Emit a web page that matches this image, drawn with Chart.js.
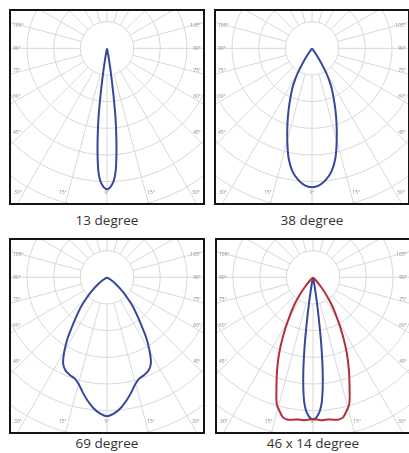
<!DOCTYPE html>
<html>
<head>
<meta charset="utf-8">
<script src="https://cdn.jsdelivr.net/npm/chart.js@4.4.1/dist/chart.umd.min.js"></script>
<style>
  body { margin: 0; background: #fff; width: 409px; height: 453px; position: relative; overflow: hidden; font-family: 'Open Sans', sans-serif; }
  .panel { position: absolute; width: 192px; height: 192px; border: 2px solid #151515; }
  .panel canvas { display: block; }
  .cap { position: absolute; width: 200px; text-align: center; font-size: 13.5px; line-height: 14px; color: #333; }
</style>
</head>
<body>
<div class="panel" style="left:9px;top:9px"><canvas id="c1" width="192" height="192"></canvas></div>
<div class="panel" style="left:214px;top:9px"><canvas id="c2" width="192" height="192"></canvas></div>
<div class="panel" style="left:9px;top:238px"><canvas id="c3" width="192" height="192"></canvas></div>
<div class="panel" style="left:215px;top:238px"><canvas id="c4" width="192" height="192"></canvas></div>
<div class="cap" style="left:7px;top:213px">13 degree</div>
<div class="cap" style="left:212px;top:213px">38 degree</div>
<div class="cap" style="left:7px;top:436px">69 degree</div>
<div class="cap" style="left:213px;top:436px">46 x 14 degree</div>

<script>
// angle from nadir (deg) and relative intensity, one half of each symmetric curve
const angles13 = [0, 1, 2, 3, 4, 5, 6, 7, 8, 9, 10, 11, 12];
const beam13 = [105.6, 104.8, 102.5, 99, 92.5, 81, 67, 52, 33, 18, 8, 2.5, 0];

const angles38 = [0, 3, 6, 9, 12, 15, 18, 21, 24, 27, 30, 33, 35, 37];
const beam38 = [104.1, 102.9, 99.2, 93.5, 84.3, 71.6, 59.6, 48.8, 39.2, 31.2, 21.3, 10, 4, 0];

const angles69 = [0, 3, 6, 9, 12, 15, 18, 21, 24, 27, 30, 33, 36, 39, 42, 45, 48, 52, 56, 60];
const beam69 = [104.1, 102.2, 98.5, 93.5, 88, 82.6, 79.5, 78.3, 76.5, 72.5, 64, 54, 43, 35, 28, 21, 15.5, 9, 4, 0];

const angles46 = [0, 2, 4, 6, 8, 10, 12, 14, 16, 18, 21, 24, 27, 30, 34, 37, 40, 43, 46];
const beam46 = [106.5, 106.8, 107.4, 107.2, 107.8, 108.4, 107.6, 103.5, 98.7, 88.8, 75.3, 62.5, 49.5, 37.5, 25.5, 17, 9.5, 3.5, 0];

const angles14 = [0, 1, 2, 3, 4, 5, 6, 7, 8, 9, 10, 11, 12, 13];
const beam14 = [106.5, 105.8, 103.5, 100, 94, 83.5, 69, 51, 31, 17, 8, 3, 1, 0];

const sideLabels = [105, 90, 75, 60, 45];
const bottomLabels = [30, 15, 0];
const ringStep = 20;
const ringMax = 240;
const spokeStep = 15;

const BLUE = '#37479b';
const RED = '#b3303b';

function toXY(a, v) {
  const t = a * Math.PI / 180;
  return { x: v * Math.sin(t), y: -v * Math.cos(t) };
}

// mirror the half curve so it runs -max .. 0 .. +max
function curve(angles, values) {
  const pts = [];
  for (let i = angles.length - 1; i > 0; i--) pts.push(toXY(-angles[i], values[i]));
  for (let i = 0; i < angles.length; i++) pts.push(toXY(angles[i], values[i]));
  return pts;
}

const polarGrid = {
  id: 'polarGrid',
  beforeDatasetsDraw(chart) {
    const { ctx, chartArea, scales: { x, y } } = chart;
    const px = (a, r) => {
      const p = toXY(a, r);
      return [x.getPixelForValue(p.x), y.getPixelForValue(p.y)];
    };
    const [cx, cy] = px(0, 0);
    const unit = x.getPixelForValue(1) - cx;

    ctx.save();
    ctx.strokeStyle = '#d8d8d8';
    ctx.lineWidth = 1;
    for (let r = ringStep; r <= ringMax; r += ringStep) {
      ctx.beginPath();
      ctx.arc(cx, cy, r * unit, 0, Math.PI * 2);
      ctx.stroke();
    }
    for (let a = 0; a < 360; a += spokeStep) {
      const [x0, y0] = px(a, ringStep);
      const [x1, y1] = px(a, ringMax);
      ctx.beginPath();
      ctx.moveTo(x0, y0);
      ctx.lineTo(x1, y1);
      ctx.stroke();
    }

    ctx.fillStyle = '#8a8a8a';
    ctx.font = '5px "Open Sans"';
    ctx.textBaseline = 'middle';
    const dx = cx - (chartArea.left + 12);
    sideLabels.forEach(a => {
      const t = a * Math.PI / 180;
      const ly = cy + dx * Math.cos(t) / Math.sin(t);
      ctx.textAlign = 'left';
      ctx.fillText(a + '°', chartArea.left + 2, ly);
      ctx.textAlign = 'right';
      ctx.fillText(a + '°', chartArea.right - 2, ly);
    });
    const by = chartArea.bottom - 10;
    const dy = by - cy;
    bottomLabels.forEach(a => {
      const off = dy * Math.tan(a * Math.PI / 180);
      if (a === 0) {
        ctx.textAlign = 'center';
        ctx.fillText('0°', cx, by);
      } else {
        ctx.textAlign = 'right';
        ctx.fillText(a + '°', cx - off - 1.5, by);
        ctx.textAlign = 'left';
        ctx.fillText(a + '°', cx + off + 1.5, by);
      }
    });
    ctx.restore();
  }
};

function makeChart(id, sets) {
  new Chart(document.getElementById(id), {
    type: 'scatter',
    data: {
      datasets: sets.map(s => ({
        data: curve(s.angles, s.values),
        showLine: true,
        borderColor: s.color,
        borderWidth: 2,
        pointRadius: 0,
        tension: 0.35,
        fill: false
      }))
    },
    options: {
      responsive: false,
      animation: false,
      layout: { padding: 0 },
      plugins: { legend: { display: false }, tooltip: { enabled: false } },
      scales: {
        x: { type: 'linear', display: false, min: -72, max: 72 },
        y: { type: 'linear', display: false, min: -116, max: 28 }
      }
    },
    plugins: [polarGrid]
  });
}

makeChart('c1', [{ angles: angles13, values: beam13, color: BLUE }]);
makeChart('c2', [{ angles: angles38, values: beam38, color: BLUE }]);
makeChart('c3', [{ angles: angles69, values: beam69, color: BLUE }]);
makeChart('c4', [
  { angles: angles46, values: beam46, color: RED },
  { angles: angles14, values: beam14, color: BLUE }
]);
</script>
</body>
</html>
